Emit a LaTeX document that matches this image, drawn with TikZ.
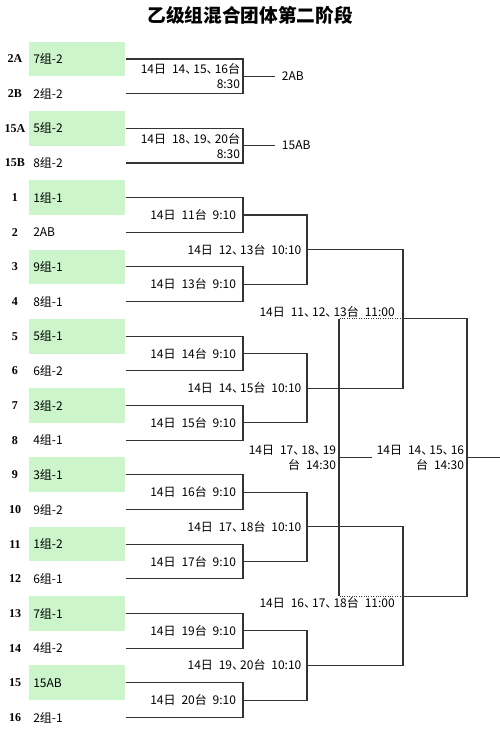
\documentclass[tikz,border=0pt]{standalone}
\usepackage{fontspec}
\setmainfont{Liberation Serif}
\newfontfamily\cjk[WordSpace=2.2]{Noto Sans CJK SC}
\newcommand\dn{、\kern-0.33em\relax}
\usepackage{xcolor}
\definecolor{cCell}{HTML}{CCF5CC}
\definecolor{cLine}{HTML}{333333}
\usepackage{tikz}
\usetikzlibrary{positioning}

\begin{document}
\begin{tikzpicture}[
    x=0.75pt, y=-0.75pt,
    cell/.style={anchor=west, minimum height=26pt, text width=66pt,
                 inner xsep=3pt, inner ysep=0pt, align=left,
                 font=\cjk\fontsize{9}{11}\selectfont},
    hicell/.style={cell, fill=cCell},
    seed/.style={inner sep=0pt, font=\bfseries\fontsize{9}{11}\selectfont},
    info/.style={align=right, inner sep=1pt, font=\cjk\fontsize{9}{11.25}\selectfont},
    winner/.style={anchor=west, inner xsep=5pt, font=\cjk\fontsize{9}{11}\selectfont},
    wire/.style={draw=cLine, line width=0.8pt},
    lost/.style={wire, densely dotted},
    node distance=2pt
]
\useasboundingbox (0,0) rectangle (500,736);

\node[font=\cjk\bfseries\fontsize{14}{16}\selectfont] (title) at (250,15) {乙级组混合团体第二阶段};

% seeds and teams
\node[seed] (n0) at (15,59) {2A};     \node[hicell] (c0) at (29,59) {7组-2};
\node[seed] (n1) at (15,93.7) {2B};   \node[cell] (c1) at (29,93.7) {2组-2};
\node[seed] (n2) at (15,128.3) {15A}; \node[hicell] (c2) at (29,128.3) {5组-2};
\node[seed] (n3) at (15,163) {15B};   \node[cell] (c3) at (29,163) {8组-2};
\node[seed] (n4) at (15,197.6) {1};   \node[hicell] (c4) at (29,197.6) {1组-1};
\node[seed] (n5) at (15,232.3) {2};   \node[cell] (c5) at (29,232.3) {2AB};
\node[seed] (n6) at (15,266.9) {3};   \node[hicell] (c6) at (29,266.9) {9组-1};
\node[seed] (n7) at (15,301.6) {4};   \node[cell] (c7) at (29,301.6) {8组-1};
\node[seed] (n8) at (15,336.2) {5};   \node[hicell] (c8) at (29,336.2) {5组-1};
\node[seed] (n9) at (15,370.9) {6};   \node[cell] (c9) at (29,370.9) {6组-2};
\node[seed] (n10) at (15,405.5) {7};  \node[hicell] (c10) at (29,405.5) {3组-2};
\node[seed] (n11) at (15,440.2) {8};  \node[cell] (c11) at (29,440.2) {4组-1};
\node[seed] (n12) at (15,474.8) {9};  \node[hicell] (c12) at (29,474.8) {3组-1};
\node[seed] (n13) at (15,509.5) {10}; \node[cell] (c13) at (29,509.5) {9组-2};
\node[seed] (n14) at (15,544.1) {11}; \node[hicell] (c14) at (29,544.1) {1组-2};
\node[seed] (n15) at (15,578.8) {12}; \node[cell] (c15) at (29,578.8) {6组-1};
\node[seed] (n16) at (15,613.4) {13}; \node[hicell] (c16) at (29,613.4) {7组-1};
\node[seed] (n17) at (15,648.1) {14}; \node[cell] (c17) at (29,648.1) {4组-2};
\node[seed] (n18) at (15,682.7) {15}; \node[hicell] (c18) at (29,682.7) {15AB};
\node[seed] (n19) at (15,717.4) {16}; \node[cell] (c19) at (29,717.4) {2组-1};

% play-in matches
\coordinate (p1) at (243,76.3);
\coordinate (p2) at (243,145.6);
\draw[wire] (c0.east) -| (p1) |- (c1.east);
\draw[wire] (c2.east) -| (p2) |- (c3.east);
\node[info, left=1pt of p1] (lp1) {14日 14\dn 15\dn 16台\\8:30};
\node[info, left=1pt of p2] (lp2) {14日 18\dn 19\dn 20台\\8:30};
\node[winner] (w1) at (275,76.3) {2AB};
\node[winner] (w2) at (275,145.6) {15AB};
\draw[wire] (p1) -- (w1.west);
\draw[wire] (p2) -- (w2.west);

% first round
\coordinate (m1) at (243,215);
\coordinate (m2) at (243,284.3);
\coordinate (m3) at (243,353.6);
\coordinate (m4) at (243,422.9);
\coordinate (m5) at (243,492.2);
\coordinate (m6) at (243,561.5);
\coordinate (m7) at (243,630.8);
\coordinate (m8) at (243,700.1);
\draw[wire] (c4.east) -| (m1) |- (c5.east);
\draw[wire] (c6.east) -| (m2) |- (c7.east);
\draw[wire] (c8.east) -| (m3) |- (c9.east);
\draw[wire] (c10.east) -| (m4) |- (c11.east);
\draw[wire] (c12.east) -| (m5) |- (c13.east);
\draw[wire] (c14.east) -| (m6) |- (c15.east);
\draw[wire] (c16.east) -| (m7) |- (c17.east);
\draw[wire] (c18.east) -| (m8) |- (c19.east);
\node[info, left=4pt of m1] (lm1) {14日 11台 9:10};
\node[info, left=4pt of m2] (lm2) {14日 13台 9:10};
\node[info, left=4pt of m3] (lm3) {14日 14台 9:10};
\node[info, left=4pt of m4] (lm4) {14日 15台 9:10};
\node[info, left=4pt of m5] (lm5) {14日 16台 9:10};
\node[info, left=4pt of m6] (lm6) {14日 17台 9:10};
\node[info, left=4pt of m7] (lm7) {14日 19台 9:10};
\node[info, left=4pt of m8] (lm8) {14日 20台 9:10};

% second round
\coordinate (q1) at (307,249.6);
\coordinate (q2) at (307,388.2);
\coordinate (q3) at (307,526.8);
\coordinate (q4) at (307,665.4);
\draw[wire] (m1) -| (q1) |- (m2);
\draw[wire] (m3) -| (q2) |- (m4);
\draw[wire] (m5) -| (q3) |- (m6);
\draw[wire] (m7) -| (q4) |- (m8);
\node[info, left=3pt of q1] (lq1) {14日 12\dn 13台 10:10};
\node[info, left=3pt of q2] (lq2) {14日 14\dn 15台 10:10};
\node[info, left=3pt of q3] (lq3) {14日 17\dn 18台 10:10};
\node[info, left=3pt of q4] (lq4) {14日 19\dn 20台 10:10};

% semifinals
\coordinate (s1) at (403,318.9);
\coordinate (s2) at (403,596.1);
\draw[wire] (q1) -| (s1) |- (q2);
\draw[wire] (q3) -| (s2) |- (q4);
\node[info, above left=0pt and 5pt of s1] (ls1) {14日 11\dn 12\dn 13台 11:00};
\node[info, below left=0pt and 5pt of s2] (ls2) {14日 16\dn 17\dn 18台 11:00};

% final
\coordinate (f) at (467,457.5);
\coordinate (champ) at (500,457.5);
\draw[wire] (s1) -| (f) |- (s2);
\draw[wire] (f) -- (champ);
\node[info, left=1pt of f] (lf) {14日 14\dn 15\dn 16\\台 14:30};

% third place
\coordinate (t3) at (339,457.5);
\coordinate (t3top) at (339,318.9);
\coordinate (t3bot) at (339,596.1);
\coordinate (bronze) at (372,457.5);
\draw[lost] (s1) -- (t3top);
\draw[lost] (s2) -- (t3bot);
\draw[wire] (t3top) -- (t3bot);
\draw[wire] (t3) -- (bronze);
\node[info, left=1pt of t3] (lt3) {14日 17\dn 18\dn 19\\台 14:30};
\end{tikzpicture}
\end{document}
